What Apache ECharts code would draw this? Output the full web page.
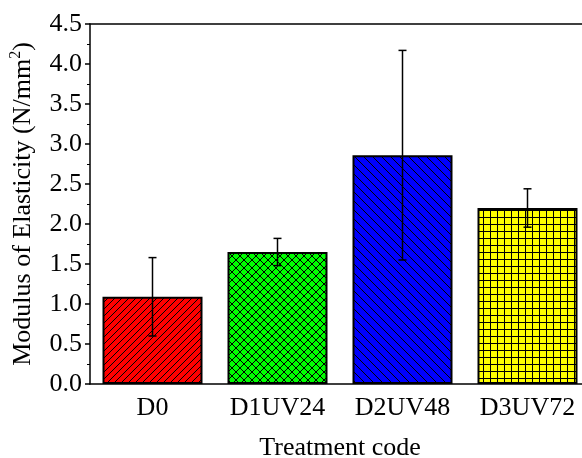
<!DOCTYPE html>
<html>
<head>
<meta charset="utf-8">
<script src="https://cdn.jsdelivr.net/npm/echarts@6/dist/echarts.min.js"></script>
<style>
  html, body { margin: 0; padding: 0; background: #fff; }
  #chart { width: 582px; height: 458px; }
</style>
</head>
<body>
<div id="chart"></div>
<script>
var categories = ['D0', 'D1UV24', 'D2UV48', 'D3UV72'];
var meanValues = [1.09, 1.65, 2.86, 2.2];
var errValues = [0.49, 0.17, 1.31, 0.24];
var barColors = ['#ff0000', '#00ff00', '#0000ff', '#ffff00'];
var hatchTypes = ['slash', 'cross', 'backslash', 'grid'];
var hatchSteps = [7, 8, 9, 7];

// tile used as bar fill
function makeHatch(bg, type, step) {
    var c = document.createElement('canvas');
    c.width = step;
    c.height = step;
    var ctx = c.getContext('2d');
    ctx.fillStyle = bg;
    ctx.fillRect(0, 0, step, step);
    ctx.strokeStyle = '#000';
    ctx.lineWidth = 1;
    ctx.beginPath();
    if (type === 'slash' || type === 'cross') {
        ctx.moveTo(-1, step + 1); ctx.lineTo(step + 1, -1);
        ctx.moveTo(-1, 1); ctx.lineTo(1, -1);
        ctx.moveTo(step - 1, step + 1); ctx.lineTo(step + 1, step - 1);
    }
    if (type === 'backslash' || type === 'cross') {
        ctx.moveTo(-1, -1); ctx.lineTo(step + 1, step + 1);
        ctx.moveTo(step - 1, -1); ctx.lineTo(step + 1, 1);
        ctx.moveTo(-1, step - 1); ctx.lineTo(1, step + 1);
    }
    if (type === 'grid') {
        ctx.moveTo(0, 0.5); ctx.lineTo(step, 0.5);
        ctx.moveTo(0.5, 0); ctx.lineTo(0.5, step);
    }
    ctx.stroke();
    return c;
}

var barData = meanValues.map(function (v, i) {
    return {
        value: v,
        itemStyle: {
            color: {
                image: makeHatch(barColors[i], hatchTypes[i], hatchSteps[i]),
                repeat: 'repeat'
            }
        }
    };
});

var errData = meanValues.map(function (v, i) {
    return [i, v - errValues[i], v + errValues[i]];
});

var font = 'Liberation Serif';
var myChart = echarts.init(document.getElementById('chart'));
var option = {
    animation: false,
    grid: { left: 90, right: -8, top: 24, bottom: 74, outerBoundsMode: 'none', containLabel: false },
    xAxis: [
        {
            type: 'category',
            data: categories,
            name: 'Treatment code',
            nameLocation: 'middle',
            nameGap: 51,
            nameTextStyle: { fontFamily: font, fontSize: 26, color: '#000' },
            axisLine: { lineStyle: { color: '#000', width: 1.5 } },
            axisTick: { alignWithLabel: true, length: 6, lineStyle: { color: '#000', width: 1.5 } },
            axisLabel: { fontFamily: font, fontSize: 26, color: '#000', margin: 11 }
        },
        {
            type: 'category',
            position: 'top',
            data: categories,
            axisLine: { lineStyle: { color: '#000', width: 1.5 } },
            axisTick: { show: false },
            axisLabel: { show: false }
        }
    ],
    yAxis: {
        type: 'value',
        min: 0,
        max: 4.5,
        interval: 0.5,
        name: '{a|Modulus of Elasticity (N/mm}{s|2}{a|)}',
        nameLocation: 'middle',
        nameGap: 52,
        nameTextStyle: {
            fontFamily: font, fontSize: 26, color: '#000',
            rich: {
                a: { fontFamily: font, fontSize: 26, color: '#000', lineHeight: 30 },
                s: { fontFamily: font, fontSize: 16, color: '#000', lineHeight: 30, verticalAlign: 'top', padding: [0, 0, 12, 0] }
            }
        },
        axisLine: { show: true, lineStyle: { color: '#000', width: 1.5 } },
        axisTick: { show: true, length: 5, lineStyle: { color: '#000', width: 1.5 } },
        minorTick: { show: true, splitNumber: 2, length: 3, lineStyle: { color: '#000', width: 1 } },
        splitLine: { show: false },
        axisLabel: {
            fontFamily: font, fontSize: 26, color: '#000', margin: 8,
            formatter: function (v) { return v.toFixed(1); }
        }
    },
    series: [
        {
            type: 'bar',
            data: barData,
            barWidth: '80%',
            itemStyle: { borderColor: '#000', borderWidth: 2 }
        },
        {
            type: 'custom',
            data: errData,
            z: 10,
            renderItem: function (params, api) {
                var lo = api.coord([api.value(0), api.value(1)]);
                var hi = api.coord([api.value(0), api.value(2)]);
                var hw = 4;
                var st = { stroke: '#000', lineWidth: 1.5 };
                return {
                    type: 'group',
                    children: [
                        { type: 'line', shape: { x1: hi[0], y1: hi[1], x2: lo[0], y2: lo[1] }, style: st },
                        { type: 'line', shape: { x1: hi[0] - hw, y1: hi[1], x2: hi[0] + hw, y2: hi[1] }, style: st },
                        { type: 'line', shape: { x1: lo[0] - hw, y1: lo[1], x2: lo[0] + hw, y2: lo[1] }, style: st }
                    ]
                };
            }
        }
    ]
};
myChart.setOption(option);
</script>
</body>
</html>
